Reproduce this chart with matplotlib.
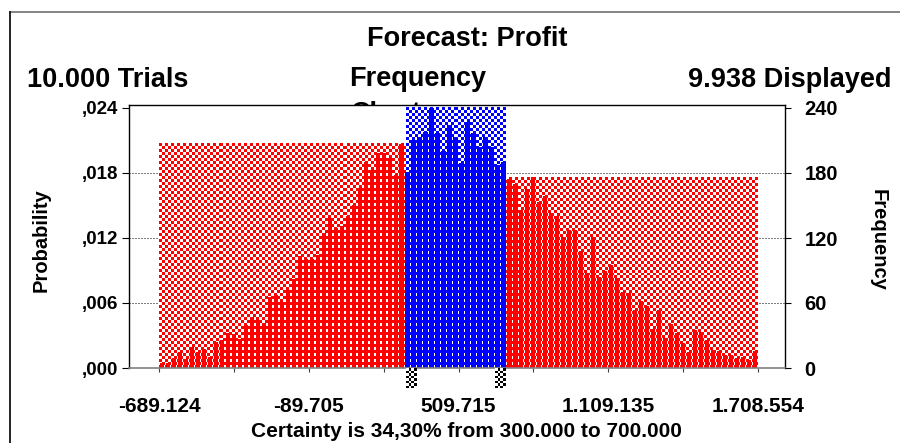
import numpy as np
import matplotlib
matplotlib.use("Agg")
import matplotlib.pyplot as plt
from matplotlib.lines import Line2D
from matplotlib.colors import to_rgb

plt.rcParams['font.family'] = ['Liberation Sans', 'DejaVu Sans']
plt.rcParams['font.weight'] = 'bold'

# ---------------- data ----------------
title = "Forecast: Profit"
trials = 10000
displayed = 9938
range_min = -689124
range_max = 1708554
certainty_low = 300000
certainty_high = 700000
certainty_pct = "34,30%"

frequencies_left = [5, 5, 9, 15, 8, 19, 15, 18, 10, 24, 26, 32, 31, 27, 40, 47, 44, 42, 66, 67,
                    61, 72, 82, 103, 101, 101, 104, 125, 138, 129, 131, 140, 150, 166, 190, 183,
                    198, 198, 194, 178, 207]
frequencies_mid = [181, 210, 213, 218, 240, 217, 200, 224, 213, 189, 227, 217, 204, 213, 204, 187, 190]
frequencies_right = [174, 170, 146, 165, 176, 153, 159, 143, 140, 121, 127, 127, 108, 88, 121, 84, 90,
                     95, 83, 70, 69, 54, 62, 57, 36, 54, 28, 41, 32, 23, 15, 35, 33, 26, 17, 16, 12,
                     12, 9, 10, 7, 16]
frequencies = frequencies_left + frequencies_mid + frequencies_right

x_tick_labels = ["-689.124", "-89.705", "509.715", "1.109.135", "1.708.554"]
freq_ticks = [0, 60, 120, 180, 240]

# ---------------- figure ----------------
W, H = 900, 443
fig = plt.figure(figsize=(W / 100, H / 100), dpi=100)
fig.patch.set_facecolor('white')

ax_l, ax_r, ax_t, ax_b = 129, 785, 105, 368
ax = fig.add_axes([ax_l / W, 1 - ax_b / H, (ax_r - ax_l) / W, (ax_b - ax_t) / H])
ax.set_facecolor('white')

freq = np.array(frequencies, dtype=float)
nb = len(freq)
edges = np.linspace(range_min, range_max, nb + 1)
binw = edges[1] - edges[0]
centers = (edges[:-1] + edges[1:]) / 2

# axis limits (margins around the displayed range)
span_px = 599.0
dpp = (range_max - range_min) / span_px
xlim = (range_min - 30 * dpp, range_max + 27 * dpp)
ylim = (0, 240 * (ax_b - ax_t) / (ax_b - ax_t - 3))
ax.set_xlim(*xlim)
ax.set_ylim(*ylim)
ax.set_autoscale_on(False)

RED = '#ff0000'
BLUE = '#0000ff'


def checker(x0, x1, y0, y1, color, cell_px, clip=True, z=1):
    p0 = ax.transData.transform((x0, y0))
    p1 = ax.transData.transform((x1, y1))
    nx = max(1, int(round(abs(p1[0] - p0[0]) / cell_px)))
    ny = max(1, int(round(abs(p1[1] - p0[1]) / cell_px)))
    ii, jj = np.indices((ny, nx))
    mask = (ii + jj) % 2 == 0
    rgb = np.ones((ny, nx, 3))
    rgb[mask] = to_rgb(color)
    ax.imshow(rgb, extent=(x0, x1, y0, y1), origin='lower', interpolation='nearest',
              aspect='auto', zorder=z, clip_on=clip)


# dotted horizontal gridlines
for t in freq_ticks[1:-1]:
    ax.axhline(t, color='black', lw=0.72, ls=(0, (1, 2)), zorder=0.5)

in_range = (centers >= certainty_low) & (centers <= certainty_high)
left_mask = centers < certainty_low
right_mask = centers > certainty_high

# checkered backgrounds up to the tallest bar of each region
checker(edges[0], certainty_low, 0, freq[left_mask].max(), RED, 3)
checker(certainty_low, certainty_high, 0, freq[in_range].max(), BLUE, 3)
checker(certainty_high, edges[-1], 0, freq[right_mask].max(), RED, 3)

colors = np.where(in_range, BLUE, RED)
ax.bar(centers, freq, width=binw * 0.7, color=colors, linewidth=0,
       antialiased=False, zorder=2)

# certainty grabbers below the axis
fpp = (ylim[1] - ylim[0]) / (ax_b - ax_t)
gw = 11 * dpp
checker(certainty_low, certainty_low + gw, -20 * fpp, -1 * fpp, 'black', 2.5, clip=False, z=3)
checker(certainty_high - gw, certainty_high, -20 * fpp, -1 * fpp, 'black', 2.5, clip=False, z=3)

ax.set_xlim(*xlim)
ax.set_ylim(*ylim)

# spines
for s in ['top', 'left', 'right']:
    ax.spines[s].set_color('black')
    ax.spines[s].set_linewidth(1.0)
ax.spines['bottom'].set_color('#808080')
ax.spines['bottom'].set_linewidth(1.2)

# x ticks
xt = np.linspace(range_min, range_max, len(x_tick_labels))
ax.set_xticks(xt)
ax.set_xticklabels(x_tick_labels, fontsize=15, fontweight='bold')
ax.set_xticks((xt[:-1] + xt[1:]) / 2, minor=True)
ax.tick_params(axis='x', which='both', direction='out', length=3, width=0.8,
               color='#404040', pad=18)

# left y ticks (probability)
ax.set_yticks(freq_ticks)
ax.set_yticklabels([("%.3f" % (t / trials)).replace("0.", ",") for t in freq_ticks],
                   fontsize=13.5, fontweight='bold')
ax.tick_params(axis='y', direction='out', length=5, width=0.8, pad=3)

# right y ticks (frequency)
ax2 = ax.twinx()
ax2.set_ylim(*ylim)
ax2.set_yticks(freq_ticks)
ax2.set_yticklabels([str(t) for t in freq_ticks], fontsize=14.5, fontweight='bold')
ax2.tick_params(axis='y', direction='out', length=4, width=0.8, pad=10)
for s in ax2.spines.values():
    s.set_visible(False)

# texts
def fx(x):
    return x / W


def fy(y):
    return 1 - y / H


fig.text(fx(467), fy(46), title, ha='center', va='baseline', fontsize=19.5, fontweight='bold')
fig.text(fx(27), fy(87), "%s Trials" % format(trials, ',').replace(',', '.'),
         ha='left', va='baseline', fontsize=19.5, fontweight='bold')
fig.text(fx(349), fy(86), "Frequency", ha='left', va='baseline', fontsize=19.5, fontweight='bold')
fig.text(fx(351), fy(121), "Chart", ha='left', va='baseline', fontsize=19.5, fontweight='bold',
         zorder=-1)
fig.text(fx(892), fy(87), "%s Displayed" % format(displayed, ',').replace(',', '.'),
         ha='right', va='baseline', fontsize=19.5, fontweight='bold')
fig.text(fx(41), fy(240), "Probability", rotation=90, ha='center', va='center',
         fontsize=14.5, fontweight='bold')
fig.text(fx(878), fy(240), "Frequency", rotation=270, ha='center', va='center',
         fontsize=14.5, fontweight='bold')
fig.text(fx(466), fy(437),
         "Certainty is %s from %s to %s" % (certainty_pct,
                                             format(certainty_low, ',').replace(',', '.'),
                                             format(certainty_high, ',').replace(',', '.')),
         ha='center', va='baseline', fontsize=15, fontweight='bold')

# outer frame
fig.add_artist(Line2D([fx(10), 1], [fy(12), fy(12)], color='#707070', lw=1.2))
fig.add_artist(Line2D([fx(10), fx(10)], [0, fy(12)], color='black', lw=1.2))

fig.savefig("out.png", dpi=100, facecolor='white')
